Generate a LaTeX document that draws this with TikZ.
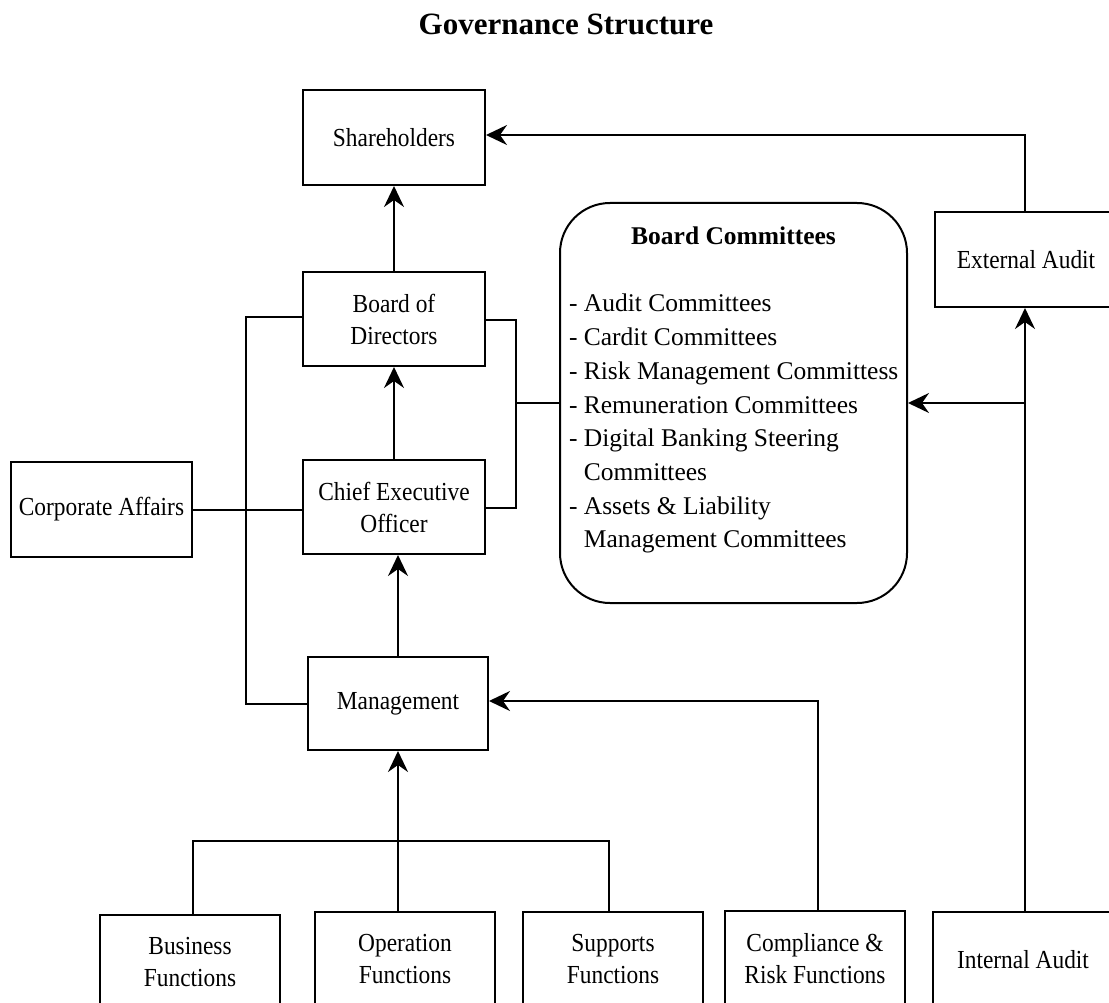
\documentclass[tikz,border=0pt]{standalone}
\usepackage{fontspec}
\setmainfont{Liberation Serif}
\newfontfamily\boxfont[FakeStretch=0.9]{Liberation Serif}
\usetikzlibrary{arrows.meta}

\begin{document}
\begin{tikzpicture}[x=1pt, y=-1pt,
  line width=2pt,
  unitbox/.style={draw, rectangle, minimum width=182pt, minimum height=95pt,
    inner sep=2pt, align=center, font=\boxfont\fontsize{26}{32}\selectfont},
  committeebox/.style={draw, rectangle, rounded corners=50pt,
    minimum width=347pt, minimum height=400pt},
  listline/.style={inner sep=0pt, anchor=base west, font=\fontsize{25.5}{33}\selectfont},
  arr/.style={-{Stealth[length=21pt, width=20pt, inset=7pt]}}
]
\useasboundingbox (0,0) rectangle (1109,1003);
\fill[white] (0,0) rectangle (1109,1003);

% title
\node[font=\bfseries\fontsize{31}{36}\selectfont, anchor=base] (title) at (566,35) {Governance Structure};

% upper chain
\node[unitbox] (sh)  at (394,137.5) {Shareholders};
\node[unitbox, minimum height=94pt] (bod) at (394,319) {Board of\\Directors};
\node[unitbox, minimum height=94pt] (ceo) at (394,507) {Chief Executive\\Officer};
\node[unitbox, minimum width=181pt] (ca)  at (101.5,509.5) {Corporate Affairs};
\node[unitbox, minimum width=180pt, minimum height=93pt] (mg) at (398,703.5) {Management};
\node[unitbox] (ea)  at (1026,259.5) {External Audit};

% board committees
\node[committeebox] (bc) at (733.5,403) {};
\node[inner sep=0pt, anchor=base, font=\bfseries\fontsize{25.5}{30}\selectfont] (bct) at (733.5,245) {Board Committees};
\node[listline] (bc1) at (568,312) {- Audit Committees};
\node[listline] (bc2) at (568,345.7) {- Cardit Committees};
\node[listline] (bc3) at (568,379.4) {- Risk Management Committess};
\node[listline] (bc4) at (568,413.1) {- Remuneration Committees};
\node[listline] (bc5) at (568,446.8) {- Digital Banking Steering};
\node[listline] (bc6) at (568,480.5) {\phantom{- }Committees};
\node[listline] (bc7) at (568,514.2) {- Assets \& Liability};
\node[listline] (bc8) at (568,547.9) {\phantom{- }Management Committees};

% bottom row
\node[unitbox, minimum width=180pt] (bf) at (190,962.5) {Business\\Functions};
\node[unitbox, minimum width=180pt] (of) at (405,959.5) {Operation\\Functions};
\node[unitbox, minimum width=180pt] (sf) at (613,959.5) {Supports\\Functions};
\node[unitbox, minimum width=180pt] (cr) at (815,958.5) {Compliance \&\\Risk Functions};
\node[unitbox, minimum width=180pt] (ia) at (1023,959.5) {Internal Audit};

% helper coordinates for the routing lines
\coordinate (lv) at (246,0);
\coordinate (rv) at (516,0);
\coordinate (crx) at (818,0);
\coordinate (auditx) at (1025,0);
\coordinate (shy) at (0,135);

% reporting arrows
\draw[arr] (bod.north) -- (sh.south);
\draw[arr] (ceo.north) -- (bod.south);
\draw[arr] (mg.north) -- (mg.north |- ceo.south);
\draw[arr] (mg.south |- of.north) -- (mg.south);
\draw[arr] (auditx |- ea.north) -- (auditx |- shy) -- (sh.east |- shy);
\draw[arr] (auditx |- ia.north) -- (auditx |- ea.south);
\draw[arr] (auditx |- bc.east) -- (bc.east);
\draw[arr] (crx |- cr.north) -- (crx |- 0,701) -- (mg.east |- 0,701);

% function bus
\draw (bf.north -| 193,0) -- (193,841) -- (609,841) -- (sf.north -| 609,0);

% left link
\draw (bod.west |- 0,317) -- (lv |- 0,317) -- (lv |- 0,704) -- (mg.west |- 0,704);
\draw (ca.east) -- (ca.east -| ceo.west);

% right link to committees
\draw (bod.east |- 0,320) -- (rv |- 0,320) -- (rv |- 0,508) -- (ceo.east |- 0,508);
\draw (rv |- bc.west) -- (bc.west);
\end{tikzpicture}
\end{document}
